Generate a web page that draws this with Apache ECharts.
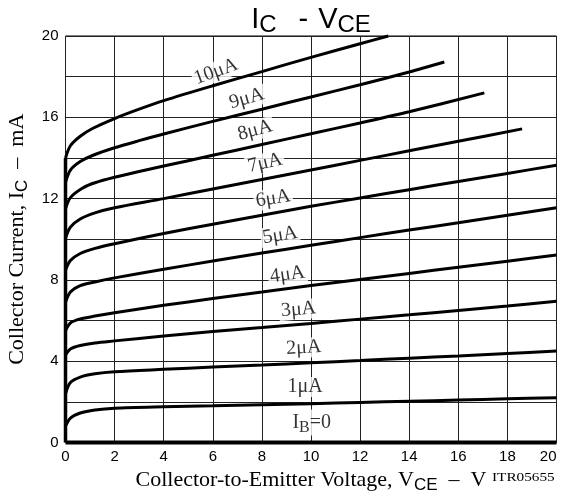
<!DOCTYPE html>
<html><head><meta charset="utf-8">
<script src="https://cdn.jsdelivr.net/npm/echarts@6/dist/echarts.min.js"></script>
<style>html,body{margin:0;padding:0;background:#fff}#c{width:574px;height:493px}</style>
</head><body><div id="c"></div>
<script>
// Base current curves: [VCE (V), IC (mA)]
const ib10 = [[0,14.0],[0.2,14.6],[0.6,15.07],[1.1,15.45],[2,15.94],[3,16.4],[4,16.82],[6,17.55],[8,18.25],[10,18.95],[12,19.62],[13.15,20.0]];
const ib9  = [[0,12.8],[0.2,13.4],[0.6,13.82],[1.1,14.12],[2,14.5],[3,14.85],[4,15.18],[6,15.8],[8,16.4],[10,17.0],[12,17.6],[14,18.23],[15.43,18.72]];
const ib8  = [[0,11.5],[0.2,12.05],[0.7,12.52],[1.2,12.78],[2,13.05],[3,13.33],[4,13.6],[6,14.13],[8,14.66],[10,15.19],[12,15.72],[14,16.27],[17.06,17.2]];
const ib7  = [[0,10.05],[0.2,10.6],[0.6,11.0],[1.2,11.3],[2,11.55],[4,12.0],[6,12.47],[8,12.94],[10,13.41],[12,13.88],[14,14.35],[16,14.82],[18.6,15.43]];
const ib6  = [[0,8.47],[0.2,8.95],[0.6,9.3],[1.2,9.55],[2,9.78],[4,10.28],[6,10.74],[8,11.18],[10,11.62],[12,12.03],[14,12.44],[16,12.84],[18,13.24],[20,13.64]];
const ib5  = [[0,6.9],[0.2,7.4],[0.6,7.72],[1.2,7.9],[2,8.1],[4,8.52],[6,8.93],[8,9.32],[10,9.7],[12,10.08],[14,10.45],[16,10.81],[18,11.18],[20,11.55]];
const ib4  = [[0,5.5],[0.2,5.88],[0.6,6.08],[1.2,6.22],[2,6.38],[4,6.75],[6,7.08],[8,7.4],[10,7.72],[12,8.02],[14,8.32],[16,8.62],[18,8.92],[20,9.22]];
const ib3  = [[0,4.3],[0.2,4.6],[0.6,4.77],[1.2,4.9],[2,5.0],[4,5.24],[6,5.46],[8,5.66],[10,5.86],[12,6.07],[14,6.28],[16,6.5],[18,6.72],[20,6.95]];
const ib2  = [[0,2.4],[0.2,2.95],[0.6,3.22],[1.2,3.38],[2,3.48],[4,3.6],[6,3.71],[8,3.81],[10,3.92],[12,4.03],[14,4.15],[16,4.26],[18,4.38],[20,4.5]];
const ib1  = [[0,0.8],[0.2,1.2],[0.6,1.45],[1.2,1.6],[2,1.69],[4,1.76],[6,1.81],[8,1.86],[10,1.91],[12,1.97],[14,2.03],[16,2.09],[18,2.15],[20,2.2]];
const ib0  = [[0,0],[20,0]];

const curveLabels = ['10μA','9μA','8μA','7μA','6μA','5μA','4μA','3μA','2μA','1μA','{a|I}{b|B}{a|=0}'];
// label anchor points (VCE, IC) and text angles
const labelAnchors = [[6.13,18.25],[7.38,16.92],[7.72,15.36],[8.13,13.75],[8.46,12.0],[8.74,10.19],[9.04,8.26],[9.49,6.54],[9.71,4.66],[9.76,2.73],[10.03,0.98]];
const labelAngles = [20,16,15,13,9,9,8,5,3,0,0];

const curves = [ib10,ib9,ib8,ib7,ib6,ib5,ib4,ib3,ib2,ib1];

const serif = 'Liberation Serif';
const sans = 'Liberation Sans';

const series = [];
curves.forEach((d,i)=>{
  series.push({type:'line', data:d, smooth:0.3, symbol:'none', z:3, clip:false,
    lineStyle:{color:'#000', width:3}});
});
// vertical rise at VCE = 0 (all curves merge on the left edge)
series.push({type:'line', data:[[0,0],[ib10[0][0],ib10[0][1]]], symbol:'none', z:3, clip:false,
  lineStyle:{color:'#000', width:3.5}});
// IB = 0
series.push({type:'line', data:ib0, symbol:'none', z:3, clip:false, lineStyle:{color:'#000', width:4}});
// curve labels
series.push({type:'scatter', symbolSize:0, z:2, silent:true,
  data: labelAnchors.map((p,i)=>({value:p, name:curveLabels[i],
    label:{rotate:labelAngles[i]}})),
  label:{show:true, position:'inside', formatter:p=>p.name, color:'#000',
    fontFamily:serif, fontSize:20, backgroundColor:'#fff', padding:[0,2,0,2],
    rich:{a:{fontFamily:serif, fontSize:20, color:'#000'},
          b:{fontFamily:serif, fontSize:16, color:'#000', padding:[10,0,0,0]}}}
});

const chart = echarts.init(document.getElementById('c'), null, {renderer:'canvas'});
chart.setOption({
  animation:false,
  backgroundColor:'#fff',
  grid:{left:65.5, right:17.5, top:36, bottom:50.5, show:true, borderColor:'#000', borderWidth:1, outerBoundsMode:'none', containLabel:false},
  title:{text:'{m|I}{s|C}{d|-}{m|V}{s|CE}', left:306, top:-2, textAlign:'center',
    textStyle:{fontWeight:'normal', rich:{
      m:{fontFamily:sans, fontSize:29, fontWeight:'normal', color:'#000'},
      s:{fontFamily:sans, fontSize:24, fontWeight:'normal', color:'#000', padding:[10,0,0,0]},
      d:{fontFamily:sans, fontSize:29, fontWeight:'normal', color:'#000', padding:[0,10,0,22]}
    }}},
  xAxis:{type:'value', min:0, max:20, interval:2,
    axisLine:{show:false}, axisTick:{show:false},
    splitLine:{show:true, lineStyle:{color:'#222', width:1}},
    axisLabel:{fontFamily:sans, fontSize:15, color:'#000', margin:7, alignMaxLabel:'right'},
    name:'{a|Collector-to-Emitter Voltage, V}{b|CE}{a|  –  V}', nameLocation:'middle', nameGap:14,
    nameTextStyle:{rich:{
      a:{fontFamily:serif, fontSize:22, color:'#000'},
      b:{fontFamily:sans, fontSize:17, color:'#000', padding:[10,0,0,0]}
    }}},
  yAxis:{type:'value', min:0, max:20, interval:2,
    axisLine:{show:false}, axisTick:{show:false},
    splitLine:{show:true, lineStyle:{color:'#222', width:1}},
    axisLabel:{fontFamily:sans, fontSize:15, color:'#000', margin:7,
      formatter:v=> (v%4===0 ? String(v) : '')},
    name:'{a|Collector Current, I}{b|C}{a|  –  mA}', nameLocation:'middle', nameGap:29, nameRotate:90,
    nameTextStyle:{rich:{
      a:{fontFamily:serif, fontSize:22, color:'#000'},
      b:{fontFamily:sans, fontSize:17, color:'#000', padding:[10,0,0,0]}
    }}},
  graphic:[{type:'text', x:492, y:471, scaleX:1.22, style:{text:'ITR05655', font:'12.5px "Liberation Serif"', fill:'#000'}}],
  series: series
});
</script></body></html>
